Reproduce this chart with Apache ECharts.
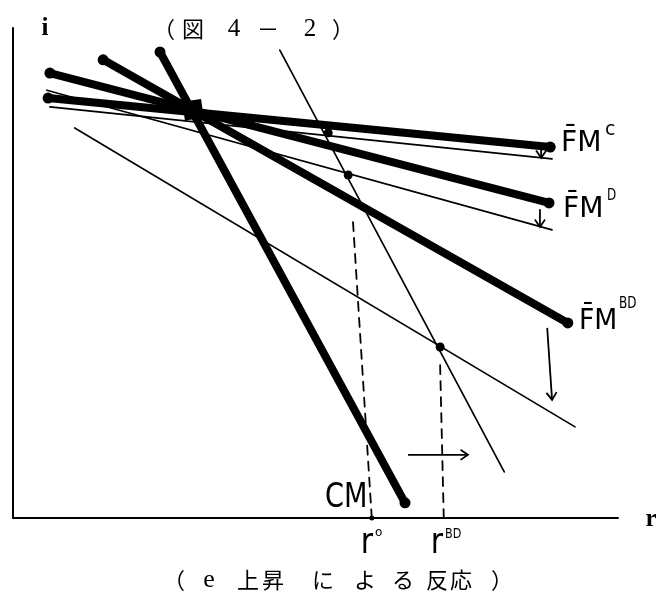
<!DOCTYPE html>
<html>
<head>
<meta charset="utf-8">
<script src="https://cdn.jsdelivr.net/npm/echarts@6/dist/echarts.min.js"></script>
<style>
  html, body { margin: 0; padding: 0; background: #fff; }
  #chart { width: 656px; height: 595px; }
</style>
</head>
<body>
<div id="chart"></div>
<script>
// Schedules before the rise in e (thick), as [r, i] end points
const fmC  = [[5.8, 85.7], [88.8, 75.7]];
const fmD  = [[6.1, 90.8], [88.6, 64.3]];
const fmBD = [[14.9, 93.5], [91.7, 39.8]];
const cm   = [[24.3, 95.1], [64.8, 3.1]];

// Schedules after the rise in e (thin)
const fmC2  = [[6.1, 83.9], [89.1, 73.3]];
const fmD2  = [[5.6, 87.3], [89.1, 58.8]];
const fmBD2 = [[10.2, 79.6], [92.9, 18.6]];
const cm2   = [[44.1, 95.5], [81.2, 9.4]];

// Initial equilibrium and the new crossings with the shifted CM
const oldEq = [[29.75, 83.3]];
const newEq = [[52.1, 78.6], [55.4, 70.0], [70.6, 34.9]];
const r0Dot = [[59.3, 0]];

// Dashed drop lines to r° and r^BD
const dropR0  = [[56.2, 60.4], [59.3, 0]];
const dropRBD = [[70.6, 31.2], [71.2, 0]];

// Shift arrows: [x1, y1, x2, y2]
const shifts = [
  [87.3, 75.4, 87.3, 73.5],
  [87.1, 63.0, 87.1, 59.4],
  [88.3, 38.8, 89.1, 24.1],
  [65.3, 12.9, 75.2, 12.9]
];

// Heading and caption glyphs with their centre x
const titleGlyphs   = [['（', 164], ['図', 193], ['4', 234], ['－', 268], ['2', 310], ['）', 343]];
const captionGlyphs = [['（', 174], ['e', 209], ['上', 248], ['昇', 273], ['に', 323], ['よ', 365], ['る', 403], ['反', 437], ['応', 461], ['）', 502]];

const INK = '#000';
const CJK = '"Noto Sans CJK JP", "Noto Sans CJK SC", sans-serif';

function segment(name, pts, width, dash) {
  return {
    type: 'line', name, data: pts, showSymbol: false, silent: true, animation: false,
    lineStyle: { color: INK, width, type: dash || 'solid', cap: 'round', opacity: 1 },
    z: width > 4 ? 3 : 2
  };
}

function dots(data, size, symbol, rotate, z) {
  return {
    type: 'scatter', silent: true, animation: false, z: z || 4,
    symbol: symbol || 'circle', symbolSize: size, symbolRotate: rotate || 0,
    itemStyle: { color: INK, opacity: 1 },
    data
  };
}

const thick = [fmC, fmD, fmBD, cm];
const thin = [fmC2, fmD2, fmBD2, cm2];

const series = [];
thick.forEach((p, k) => series.push(segment('thick' + k, p, 8)));
thin.forEach((p, k) => series.push(segment('thin' + k, p, 1.7)));
series.push(segment('dropR0', dropR0, 1.8, [9, 7]));
series.push(segment('dropRBD', dropRBD, 1.8, [9, 7]));

// rounded blobs at the ends of the thick schedules
series.push(dots([].concat(...thick), 11));
series.push(dots(newEq, 9));
series.push(dots(r0Dot, 5));
series.push(dots(oldEq, 19, 'rect', 8, 5));

// open-headed arrows
series.push({
  type: 'custom', silent: true, animation: false, z: 4,
  data: shifts,
  renderItem: function (params, api) {
    const a = api.coord([api.value(0), api.value(1)]);
    const b = api.coord([api.value(2), api.value(3)]);
    const ang = Math.atan2(b[1] - a[1], b[0] - a[0]);
    const L = 9, th = 0.6;
    const h1 = [b[0] - L * Math.cos(ang - th), b[1] - L * Math.sin(ang - th)];
    const h2 = [b[0] - L * Math.cos(ang + th), b[1] - L * Math.sin(ang + th)];
    const st = { stroke: INK, lineWidth: 1.8, fill: null };
    return {
      type: 'group',
      children: [
        { type: 'line', shape: { x1: a[0], y1: a[1], x2: b[0], y2: b[1] }, style: st },
        { type: 'polyline', shape: { points: [h1, b, h2] }, style: st }
      ]
    };
  }
});

function txt(text, x, y, font, opts) {
  return Object.assign({
    type: 'text', x, y, silent: true,
    style: { text, font, fill: INK, align: 'center', verticalAlign: 'middle',
             textAlign: 'center', textVerticalAlign: 'middle' }
  }, opts || {});
}
function txtL(text, x, y, font, opts) {
  const t = txt(text, x, y, font, opts);
  t.style.align = 'left'; t.style.textAlign = 'left';
  return t;
}

const graphic = [];
titleGlyphs.forEach(g => graphic.push(txt(g[0], g[1], 29, /[0-9]/.test(g[0]) ? '25px "Liberation Serif", serif' : '22px ' + CJK)));
captionGlyphs.forEach(g => graphic.push(txt(g[0], g[1], 580, g[0] === 'e' ? '26px "Liberation Serif", serif' : '22px ' + CJK)));

graphic.push(txt('i', 45, 29, 'bold 25px "Liberation Serif", serif'));
graphic.push(txt('r', 651, 520, 'bold 25px "Liberation Serif", serif'));

const handFont = '"DejaVu Sans", sans-serif';
graphic.push(txtL('F\u0304M', 561, 143, '29px ' + handFont, { scaleX: 0.97 }));
graphic.push(txtL('c', 605, 130, '19px ' + handFont));
graphic.push(txtL('F\u0304M', 563, 209, '29px ' + handFont, { scaleX: 0.97 }));
graphic.push(txtL('D', 607, 196, '15px ' + handFont, { scaleX: 0.8 }));
graphic.push(txtL('F\u0304M', 579, 321, '29px ' + handFont, { scaleX: 0.92 }));
graphic.push(txtL('BD', 619, 304, '15px ' + handFont, { scaleX: 0.8 }));
graphic.push(txtL('CM', 325, 498, '34px ' + handFont, { scaleX: 0.8 }));
graphic.push(txt('r', 367, 544, '30px ' + handFont, { scaleY: 1.2 }));
graphic.push(txtL('o', 375, 533, '12px ' + handFont));
graphic.push(txt('r', 437, 544, '30px ' + handFont, { scaleY: 1.2 }));
graphic.push(txtL('BD', 445, 534, '14px ' + handFont, { scaleX: 0.8 }));

const chart = echarts.init(document.getElementById('chart'), null, { renderer: 'canvas' });
chart.setOption({
  animation: false,
  backgroundColor: '#fff',
  grid: { left: 13, right: 38, top: 28, bottom: 77 },
  xAxis: {
    type: 'value', min: 0, max: 100,
    axisLine: { show: true, onZero: false, lineStyle: { color: INK, width: 2 } },
    axisTick: { show: false }, axisLabel: { show: false }, splitLine: { show: false }
  },
  yAxis: {
    type: 'value', min: 0, max: 100,
    axisLine: { show: true, onZero: false, lineStyle: { color: INK, width: 2 } },
    axisTick: { show: false }, axisLabel: { show: false }, splitLine: { show: false }
  },
  series,
  graphic
});
</script>
</body>
</html>
